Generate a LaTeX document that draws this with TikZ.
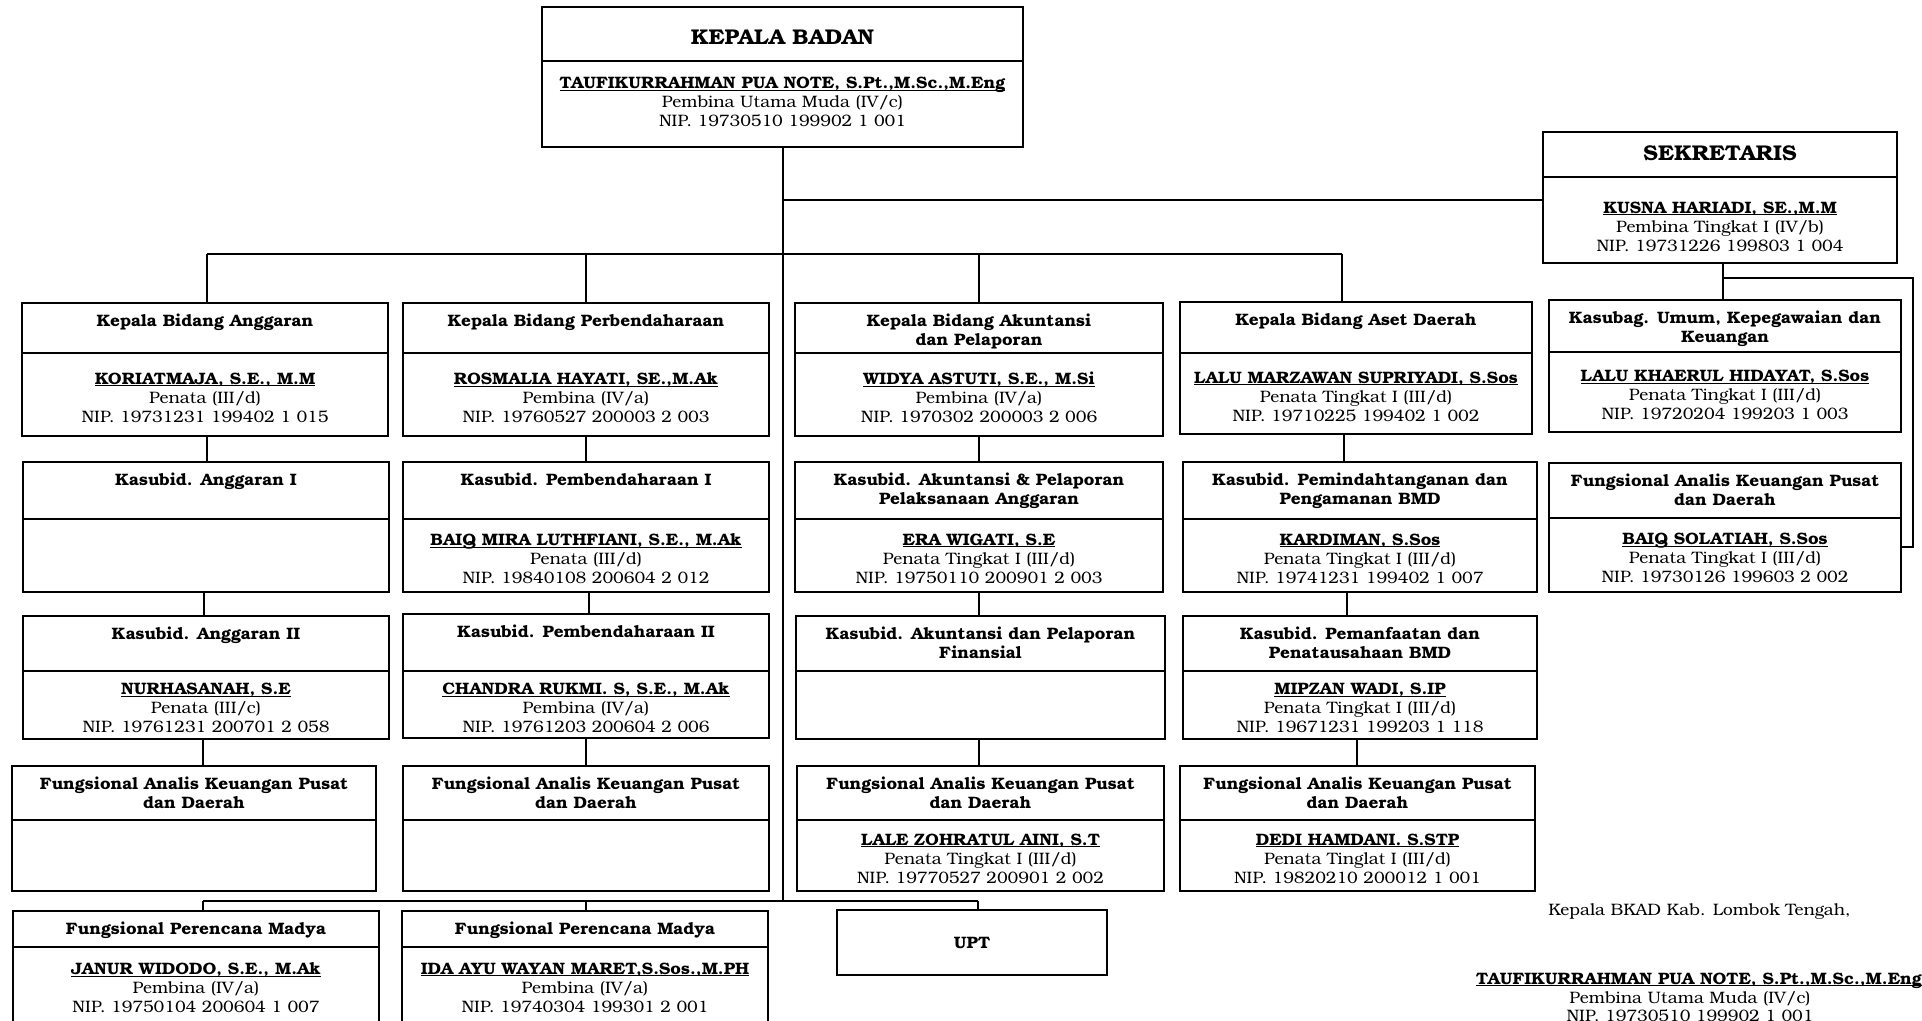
\documentclass[tikz,border=0pt]{standalone}
\usepackage{fontspec}
\setmainfont{texgyrebonum}[Extension=.otf, UprightFont=*-regular, BoldFont=*-bold, ItalicFont=*-italic, BoldItalicFont=*-bolditalic, FakeStretch=1.04]
\usetikzlibrary{fit}
\newcommand\nm[1]{{\setbox0\hbox{\textbf{#1}}\rlap{\rule[-1.5pt]{\wd0}{0.6pt}}\box0}}
\tikzset{
  ln/.style={line width=0.9pt, black},
  obx/.style={draw, ln, inner sep=0pt, outer sep=0pt},
  hdr/.style={font=\fontsize{12.4}{14.25}\selectfont\bfseries, align=center, anchor=north, inner sep=0pt},
  bd/.style={font=\fontsize{12.4}{14.25}\selectfont, align=center, anchor=center, inner sep=0pt},
  bigh/.style={font=\fontsize{16}{18}\selectfont\bfseries, align=center, anchor=base, inner sep=0pt},
}
\newcommand\obox[8]{%
  \node[obx, fit={(#2,#3) (#4,#6)}] (#1) {};
  \draw[ln] (#2,#5) -- (#4,#5);
  \node[hdr] (#1-h) at ({(#2+#4)/2},{#3+11}) {#7};
  \node[bd] (#1-b) at ({(#2+#4)/2},{(#5+#6)/2+3}) {#8};
}
\begin{document}
\begin{tikzpicture}[x=0.75pt,y=-0.75pt]
\clip (0,0) rectangle (1922,1020);
\fill[white] (0,0) rectangle (1922,1020);

% Kepala Badan
\node[obx, fit={(542,7) (1023,147)}] (kb) {};
\draw[ln] (542,61) -- (1023,61);
\node[bigh] (kb-h) at (782.5,45) {KEPALA BADAN};
\node[bd] (kb-b) at (782.5,102) {\nm{TAUFIKURRAHMAN PUA NOTE, S.Pt.,M.Sc.,M.Eng}\\Pembina Utama Muda (IV/c)\\NIP. 19730510 199902 1 001};

% Sekretaris
\node[obx, fit={(1543,132) (1897,263)}] (sek) {};
\draw[ln] (1543,177) -- (1897,177);
\node[bigh] (sek-h) at (1720,161) {SEKRETARIS};
\node[bd] (sek-b) at (1720,226.5) {\nm{KUSNA HARIADI, SE.,M.M}\\Pembina Tingkat I (IV/b)\\NIP. 19731226 199803 1 004};

% Row 1
\obox{ang}{22}{303}{388}{353}{436}{Kepala Bidang Anggaran}{\nm{KORIATMAJA, S.E., M.M}\\Penata (III/d)\\NIP. 19731231 199402 1 015}
\obox{per}{403}{303}{769}{353}{436}{Kepala Bidang Perbendaharaan}{\nm{ROSMALIA HAYATI, SE.,M.Ak}\\Pembina (IV/a)\\NIP. 19760527 200003 2 003}
\obox{akt}{795}{303}{1163}{353}{436}{Kepala Bidang Akuntansi\\dan Pelaporan}{\nm{WIDYA ASTUTI, S.E., M.Si}\\Pembina (IV/a)\\NIP. 1970302 200003 2 006}
\obox{aset}{1180}{302}{1532}{353}{434}{Kepala Bidang Aset Daerah}{\nm{LALU MARZAWAN SUPRIYADI, S.Sos}\\Penata Tingkat I (III/d)\\NIP. 19710225 199402 1 002}
\obox{ksb}{1549}{300}{1901}{352}{432}{Kasubag. Umum, Kepegawaian dan\\Keuangan}{\nm{LALU KHAERUL HIDAYAT, S.Sos}\\Penata Tingkat I (III/d)\\NIP. 19720204 199203 1 003}

% Row 2
\obox{ang1}{23}{462}{389}{519}{592}{Kasubid. Anggaran I}{}
\obox{per1}{403}{462}{769}{519}{592}{Kasubid. Pembendaharaan I}{\nm{BAIQ MIRA LUTHFIANI, S.E., M.Ak}\\Penata (III/d)\\NIP. 19840108 200604 2 012}
\obox{akt1}{795}{462}{1163}{519}{592}{Kasubid. Akuntansi \& Pelaporan\\Pelaksanaan Anggaran}{\nm{ERA WIGATI, S.E}\\Penata Tingkat I (III/d)\\NIP. 19750110 200901 2 003}
\obox{aset1}{1183}{462}{1537}{519}{592}{Kasubid. Pemindahtanganan dan\\Pengamanan BMD}{\nm{KARDIMAN, S.Sos}\\Penata Tingkat I (III/d)\\NIP. 19741231 199402 1 007}
\obox{fasr}{1549}{463}{1901}{518}{592}{Fungsional Analis Keuangan Pusat\\dan Daerah}{\nm{BAIQ SOLATIAH, S.Sos}\\Penata Tingkat I (III/d)\\NIP. 19730126 199603 2 002}

% Row 3
\obox{ang2}{23}{616}{389}{671}{739}{Kasubid. Anggaran II}{\nm{NURHASANAH, S.E}\\Penata (III/c)\\NIP. 19761231 200701 2 058}
\obox{per2}{403}{614}{769}{671}{738}{Kasubid. Pembendaharaan II}{\nm{CHANDRA RUKMI. S, S.E., M.Ak}\\Pembina (IV/a)\\NIP. 19761203 200604 2 006}
\obox{akt2}{796}{616}{1165}{671}{739}{Kasubid. Akuntansi dan Pelaporan\\Finansial}{}
\obox{aset2}{1183}{616}{1537}{671}{739}{Kasubid. Pemanfaatan dan\\Penatausahaan BMD}{\nm{MIPZAN WADI, S.IP}\\Penata Tingkat I (III/d)\\NIP. 19671231 199203 1 118}

% Row 4
\obox{fa1}{12}{766}{376}{820}{891}{Fungsional Analis Keuangan Pusat\\dan Daerah}{}
\obox{fa2}{403}{766}{769}{820}{891}{Fungsional Analis Keuangan Pusat\\dan Daerah}{}
\obox{fa3}{797}{766}{1164}{820}{891}{Fungsional Analis Keuangan Pusat\\dan Daerah}{\nm{LALE ZOHRATUL AINI, S.T}\\Penata Tingkat I (III/d)\\NIP. 19770527 200901 2 002}
\obox{fa4}{1180}{766}{1535}{820}{891}{Fungsional Analis Keuangan Pusat\\dan Daerah}{\nm{DEDI HAMDANI. S.STP}\\Penata Tinglat I (III/d)\\NIP. 19820210 200012 1 001}

% Row 5
\obox{fp1}{13}{911}{379}{947}{1022}{Fungsional Perencana Madya}{\nm{JANUR WIDODO, S.E., M.Ak}\\Pembina (IV/a)\\NIP. 19750104 200604 1 007}
\obox{fp2}{402}{911}{768}{947}{1022}{Fungsional Perencana Madya}{\nm{IDA AYU WAYAN MARET,S.Sos.,M.PH}\\Pembina (IV/a)\\NIP. 19740304 199301 2 001}
\node[obx, fit={(837,910) (1107,975)}] (upt) {};
\node[bd, font=\fontsize{12.4}{14.25}\selectfont\bfseries] (upt-t) at (972,943) {UPT};

% junction coordinates
\coordinate (jS) at (783,200);
\coordinate (jL) at (783,901);
\coordinate (b1) at (207,254);
\coordinate (b2) at (586,254);
\coordinate (b3) at (979,254);
\coordinate (b4) at (1342,254);
\coordinate (c41) at (1344,0);
\coordinate (c42) at (1347,0);
\coordinate (c43) at (1357,0);
\coordinate (c12) at (204,0);
\coordinate (c22) at (589,0);
\coordinate (p1) at (203,901);
\coordinate (p2) at (586,901);
\coordinate (p3) at (978,901);
\coordinate (s1) at (1723,278);
\coordinate (s2) at (1913,278);
\coordinate (s3) at (1913,547);

% main trunk
\draw[ln] (kb.south -| jL) -- (jL);
\draw[ln] (jS) -- (sek.west |- jS);
\draw[ln] (b1) -- (b4);
\draw[ln] (b1) -- (ang.north -| b1);
\draw[ln] (b2) -- (per.north -| b2);
\draw[ln] (b3) -- (akt.north -| b3);
\draw[ln] (b4) -- (aset.north -| b4);

% column 1
\draw[ln] (ang.south -| b1) -- (ang1.north -| b1);
\draw[ln] (ang1.south -| c12) -- (ang2.north -| c12);
\draw[ln] (ang2.south -| p1) -- (fa1.north -| p1);
% column 2
\draw[ln] (per.south -| b2) -- (per1.north -| b2);
\draw[ln] (per1.south -| c22) -- (per2.north -| c22);
\draw[ln] (per2.south -| b2) -- (fa2.north -| b2);
% column 3
\draw[ln] (akt.south -| b3) -- (akt1.north -| b3);
\draw[ln] (akt1.south -| b3) -- (akt2.north -| b3);
\draw[ln] (akt2.south -| b3) -- (fa3.north -| b3);
% column 4
\draw[ln] (aset.south -| c41) -- (aset1.north -| c41);
\draw[ln] (aset1.south -| c42) -- (aset2.north -| c42);
\draw[ln] (aset2.south -| c43) -- (fa4.north -| c43);

% sekretaris branch
\draw[ln] (sek.south -| s1) -- (ksb.north -| s1);
\draw[ln] (s1) -- (s2) -- (s3) -- (fasr.east |- s3);

% bottom bus
\draw[ln] (p1) -- (p3);
\draw[ln] (p1) -- (fp1.north -| p1);
\draw[ln] (p2) -- (fp2.north -| p2);
\draw[ln] (p3) -- (upt.north -| p3);

% signature
\node[bd, anchor=base west] (sig1) at (1548,915) {Kepala BKAD Kab. Lombok Tengah,};
\node[bd, anchor=base] (sig2) at (1699,984) {\nm{TAUFIKURRAHMAN PUA NOTE, S.Pt.,M.Sc.,M.Eng}};
\node[bd, anchor=base] (sig3) at (1690,1003) {Pembina Utama Muda (IV/c)};
\node[bd, anchor=base] (sig4) at (1690,1021) {NIP. 19730510 199902 1 001};
\end{tikzpicture}
\end{document}
